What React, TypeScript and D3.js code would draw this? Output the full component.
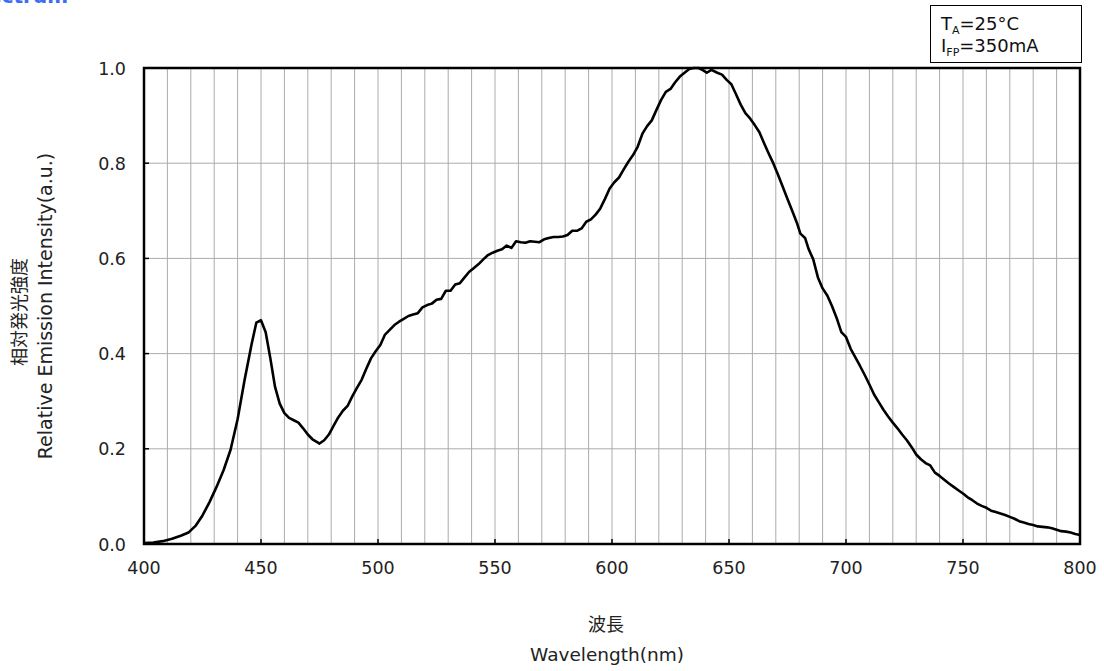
import React from "react";
import * as d3 from "d3";

const wavelengths: number[] = [
  400, 404, 408, 412, 416, 419, 422, 425, 428, 431, 434, 437, 440, 443, 446, 448, 450, 452, 454, 456,
  458, 460, 462, 464, 466, 468, 470, 472, 474, 475, 477, 479, 481, 483, 485, 487, 489, 491, 493, 495,
  497, 499, 501, 503, 505, 507, 509, 511, 513, 515, 517, 519, 521, 523, 525, 527, 529, 531, 533, 535,
  537, 539, 541, 543, 545, 547, 549, 551, 553, 555, 557, 559, 561, 563, 565, 567, 569, 571, 573, 575,
  577, 579, 581, 583, 585, 587, 589, 591, 593, 595, 597, 599, 601, 603, 605, 607, 609, 611, 613, 615,
  617, 619, 621, 623, 625, 627, 629, 631, 633, 635, 637, 639, 640.5, 642.5, 645, 647, 649, 651, 653, 655,
  657, 659, 661, 663, 665, 667, 669, 671, 673, 675, 677, 679, 680.5, 682.5, 684, 686, 688, 690, 692, 694,
  696, 698, 700, 702, 704, 706, 708, 710, 712, 714, 716, 718, 720, 722, 724, 726, 728, 730, 732, 734,
  736, 738, 740, 742, 744, 746, 748, 750, 752, 754, 756, 758, 760, 762, 764, 766, 768, 770, 772, 774,
  776, 778, 780, 782, 784, 786, 788, 790, 792, 794, 796, 798, 800,
];

const intensity: number[] = [
  0.002, 0.003, 0.006, 0.011, 0.018, 0.024, 0.038, 0.06, 0.088, 0.12, 0.155, 0.198, 0.262, 0.345, 0.42, 0.465, 0.47, 0.445, 0.39, 0.33,
  0.295, 0.275, 0.265, 0.26, 0.255, 0.243, 0.23, 0.22, 0.214, 0.211, 0.218, 0.23, 0.248, 0.266, 0.28, 0.29, 0.31, 0.328, 0.345, 0.368,
  0.39, 0.405, 0.418, 0.44, 0.45, 0.46, 0.467, 0.473, 0.479, 0.482, 0.485, 0.497, 0.502, 0.505, 0.513, 0.515, 0.532, 0.532, 0.545, 0.548,
  0.56, 0.572, 0.58, 0.588, 0.598, 0.607, 0.612, 0.616, 0.619, 0.627, 0.622, 0.636, 0.634, 0.633, 0.636, 0.635, 0.634, 0.64, 0.643, 0.645,
  0.645, 0.646, 0.649, 0.658, 0.658, 0.663, 0.677, 0.682, 0.692, 0.705, 0.725, 0.747, 0.76, 0.77, 0.787, 0.803, 0.817, 0.835, 0.862, 0.878,
  0.89, 0.912, 0.933, 0.95, 0.956, 0.97, 0.982, 0.99, 0.998, 1.0, 1.0, 0.995, 0.99, 0.996, 0.99, 0.986, 0.975, 0.966, 0.945, 0.923,
  0.905, 0.894, 0.88, 0.865, 0.842, 0.82, 0.799, 0.775, 0.75, 0.725, 0.7, 0.675, 0.652, 0.643, 0.62, 0.598, 0.56, 0.537, 0.522, 0.5,
  0.475, 0.445, 0.435, 0.41, 0.392, 0.374, 0.355, 0.335, 0.314, 0.298, 0.282, 0.268, 0.255, 0.243, 0.23, 0.218, 0.204, 0.188, 0.178, 0.17,
  0.165, 0.15, 0.143, 0.135, 0.127, 0.12, 0.113, 0.106, 0.098, 0.092, 0.085, 0.08, 0.076, 0.07, 0.067, 0.064, 0.061, 0.057, 0.053, 0.048,
  0.045, 0.042, 0.04, 0.037, 0.036, 0.035, 0.033, 0.03, 0.027, 0.026, 0.024, 0.021, 0.019,
];

const xTickLabels: number[] = [400, 450, 500, 550, 600, 650, 700, 750, 800];
const yTickLabels: number[] = [0, 0.2, 0.4, 0.6, 0.8, 1.0];
const xGrid: number[] = d3.range(410, 800, 10);

const FONT = "'DejaVu Sans', Verdana, sans-serif";
const CJK = "'Noto Sans CJK JP', 'DejaVu Sans', sans-serif";

export default function App() {
  const W = 1104, H = 671;
  const left = 144, right = 1080, top = 68, bottom = 544;
  const x = d3.scaleLinear().domain([400, 800]).range([left, right]);
  const y = d3.scaleLinear().domain([0, 1]).range([bottom, top]);
  const pts: [number, number][] = wavelengths.map((w, i) => [w, intensity[i]]);
  const line = d3.line<[number, number]>().x(d => x(d[0])).y(d => y(d[1]));
  const cy = (top + bottom) / 2 + 30;

  return (
    <svg width={W} height={H} style={{ position: "absolute", left: 0, top: 0, background: "#fff" }}>
      <text x={68} y={3} textAnchor="end" fontFamily={FONT} fontWeight="bold" fontSize={20} fill="#3b6ef2">Spectrum</text>

      {xGrid.map(v => (
        <line key={"xg" + v} x1={x(v)} x2={x(v)} y1={top} y2={bottom} stroke="#acacac" strokeWidth={1} />
      ))}
      {yTickLabels.slice(1, -1).map(v => (
        <line key={"yg" + v} x1={left} x2={right} y1={y(v)} y2={y(v)} stroke="#acacac" strokeWidth={1} />
      ))}
      {xTickLabels.map(v => (
        <line key={"xt" + v} x1={x(v)} x2={x(v)} y1={bottom} y2={bottom - 5} stroke="#000" strokeWidth={1.5} />
      ))}
      {yTickLabels.map(v => (
        <line key={"yt" + v} x1={left} x2={left + 5} y1={y(v)} y2={y(v)} stroke="#000" strokeWidth={1.5} />
      ))}

      <path d={line(pts) || ""} fill="none" stroke="#000" strokeWidth={2.6} strokeLinejoin="round" />

      <rect x={left} y={top} width={right - left} height={bottom - top} fill="none" stroke="#000" strokeWidth={2.5} />

      {xTickLabels.map(v => (
        <text key={"xl" + v} x={x(v)} y={574} textAnchor="middle" fontFamily={FONT} fontSize={17.5} fill="#222">{v}</text>
      ))}
      {yTickLabels.map(v => (
        <text key={"yl" + v} x={126} y={y(v) + 6.5} textAnchor="end" fontFamily={FONT} fontSize={17.5} fill="#222">{v.toFixed(1)}</text>
      ))}

      <text x={606} y={631} textAnchor="middle" fontFamily={CJK} fontSize={18} fill="#222">波長</text>
      <text x={607} y={661} textAnchor="middle" fontFamily={FONT} fontSize={18.5} fill="#222">Wavelength(nm)</text>

      <text transform={`translate(26,${cy - 24}) rotate(-90)`} textAnchor="middle" fontFamily={CJK} fontSize={18} fill="#222">相対発光強度</text>
      <text transform={`translate(52,${306}) rotate(-90)`} textAnchor="middle" fontFamily={FONT} fontSize={19} fill="#222">Relative Emission Intensity(a.u.)</text>

      <rect x={930.5} y={5.5} width={151} height={57} fill="#fff" stroke="#000" strokeWidth={1} />
      <text x={941} y={30} fontFamily={FONT} fontSize={18} fill="#111">
        T<tspan fontSize={11} dy={4}>A</tspan><tspan dy={-4}>=25°C</tspan>
      </text>
      <text x={941} y={52} fontFamily={FONT} fontSize={18} fill="#111">
        I<tspan fontSize={11} dy={4}>FP</tspan><tspan dy={-4}>=350mA</tspan>
      </text>
    </svg>
  );
}
